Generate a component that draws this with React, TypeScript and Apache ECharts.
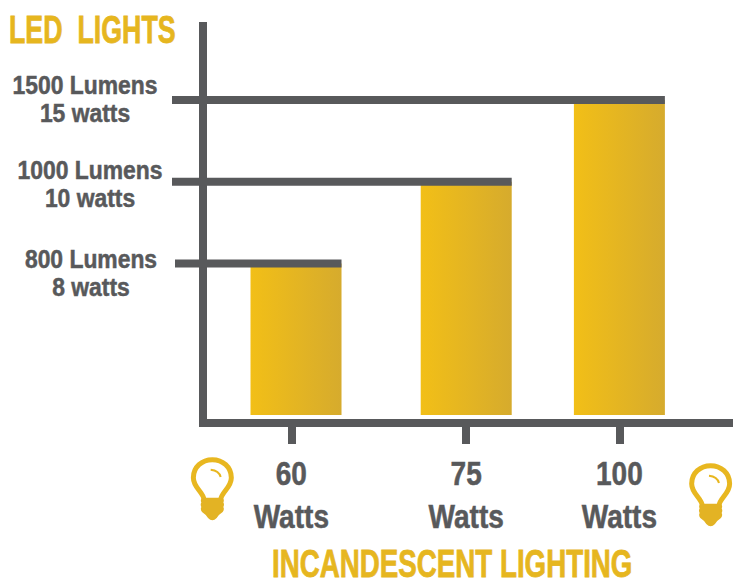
import React, { useEffect, useRef } from "react";
import * as echarts from "echarts";

const tickLabels = ["60\nWatts", "75\nWatts", "100\nWatts"];
const wattSlots = [0, 20, 38];
const tickSlots = [-0.55, 20, 38];
const rungs = [1, 2, 3];
const rungLabels = ["800 Lumens\n8 watts", "1000 Lumens\n10 watts", "1500 Lumens\n15 watts"];
const labelOffsets = [[91, 9.5], [90, 2], [85, -1]];
const guideStarts = [175, 172, 172];
const barBase = -0.853;
const yMin = -0.951;

const GRAY = "#58595B";
const FONT = '"Liberation Sans", sans-serif';
const gold = () => new echarts.graphic.LinearGradient(0, 0, 1, 0, [
  { offset: 0, color: "#F2BF17" },
  { offset: 1, color: "#D6AB2D" },
]);

echarts.graphic.registerShape("bulbOutline", echarts.graphic.extendPath(
  "M40,128 C38,105 8,92 8,62 C8,30 34,8 65,8 C96,8 122,30 122,62 C122,92 92,105 90,128", {}));
echarts.graphic.registerShape("bulbBase", echarts.graphic.extendPath(
  "M34,122 H96 Q102,130 98,136 Q102,143 98,150 Q102,158 96,165 Q85,172 78,183 Q65,197 52,183 Q45,172 34,165 Q28,158 32,150 Q28,143 32,136 Q28,130 34,122 Z", {}));
echarts.graphic.registerShape("bulbShine", echarts.graphic.extendPath(
  "M60,38 Q85,40 90,60", {}));

const bulb = (x: number, y: number) => ({
  type: "group",
  x,
  y,
  scaleX: 1 / 3,
  scaleY: 1 / 3,
  children: [
    { type: "bulbOutline", style: { fill: "none", stroke: "#E8B720", lineWidth: 15 } },
    { type: "bulbBase", style: { fill: "#E3B324" } },
    { type: "bulbShine", style: { fill: "none", stroke: "#E8B720", lineWidth: 6 } },
  ],
});

const heading = (text: string, x: number, y: number, scaleX: number) => ({
  type: "text",
  x,
  y,
  scaleX,
  style: {
    text,
    fill: "#E6B61F",
    stroke: "#E6B61F",
    lineWidth: 0.8,
    fontFamily: FONT,
    fontSize: 38,
    lineHeight: 30,
    fontWeight: "bold",
    verticalAlign: "middle",
  },
});

export default function App() {
  const ref = useRef<HTMLDivElement>(null);
  useEffect(() => {
    const chart = echarts.init(ref.current!, null, { renderer: "svg" });
    chart.setOption({
      animation: false,
      backgroundColor: "#fff",
      grid: { left: 203, right: 0, top: 22, bottom: 157 },
      xAxis: {
        type: "value",
        min: -10.93,
        max: 51.35,
        splitLine: { show: false },
        axisLine: { show: true, onZero: false, lineStyle: { color: GRAY, width: 8, cap: "square" } },
        axisTick: { show: true, customValues: tickSlots, length: 21, lineStyle: { color: GRAY, width: 8, cap: "butt" } },
        axisLabel: { show: false },
      },
      yAxis: {
        type: "value",
        min: yMin,
        max: 3.954,
        splitLine: { show: false },
        axisLine: { show: true, onZero: false, lineStyle: { color: GRAY, width: 8, cap: "butt" } },
        axisTick: { show: false },
        axisLabel: { show: false },
      },
      series: [
        {
          type: "custom",
          name: "Bars",
          data: wattSlots.map((s, i) => [s, rungs[i]]),
          renderItem: (_: any, api: any) => {
            const top = api.coord([api.value(0), api.value(1)]);
            const bottom = api.coord([api.value(0), barBase]);
            return {
              type: "rect",
              shape: { x: top[0] - 45.5, y: top[1], width: 91, height: bottom[1] - top[1] },
              style: { fill: gold() },
            };
          },
        },
        {
          type: "custom",
          name: "Guides",
          data: wattSlots.map((s, i) => [s, rungs[i]]),
          z: 3,
          renderItem: (params: any, api: any) => {
            const top = api.coord([api.value(0), api.value(1)]);
            const start = guideStarts[params.dataIndex];
            return {
              type: "rect",
              shape: { x: start, y: top[1] - 4, width: top[0] + 45.5 - start, height: 8 },
              style: { fill: GRAY },
            };
          },
        },
        {
          type: "custom",
          name: "Rung labels",
          data: wattSlots.map((s, i) => [s, rungs[i]]),
          renderItem: (params: any, api: any) => {
            const top = api.coord([api.value(0), api.value(1)]);
            const o = labelOffsets[params.dataIndex];
            return {
              type: "text",
              x: o[0],
              y: top[1] + o[1],
              scaleX: 0.88,
              style: {
                text: rungLabels[params.dataIndex],
                align: "center",
                verticalAlign: "middle",
                fill: GRAY,
                stroke: GRAY,
                lineWidth: 0.5,
                fontFamily: FONT,
                fontWeight: "bold",
                fontSize: 26,
                lineHeight: 28,
              },
            };
          },
        },
        {
          type: "custom",
          name: "Watt labels",
          data: tickSlots.map((s) => [s, yMin]),
          renderItem: (params: any, api: any) => {
            const p = api.coord([api.value(0), api.value(1)]);
            return {
              type: "text",
              x: p[0],
              y: p[1] + 71.5,
              scaleX: 0.85,
              style: {
                text: tickLabels[params.dataIndex],
                align: "center",
                verticalAlign: "middle",
                fill: GRAY,
                stroke: GRAY,
                lineWidth: 0.5,
                fontFamily: FONT,
                fontWeight: "bold",
                fontSize: 33,
                lineHeight: 43,
              },
            };
          },
        },
      ],
      graphic: [
        bulb(190.7, 457),
        bulb(689, 463),
        heading("LED  LIGHTS", 9, 30, 0.705),
        heading("INCANDESCENT LIGHTING", 272, 564, 0.73),
      ],
    });
    return () => chart.dispose();
  }, []);
  return <div ref={ref} style={{ position: "fixed", left: 0, top: 0, width: 733, height: 580 }} />;
}
